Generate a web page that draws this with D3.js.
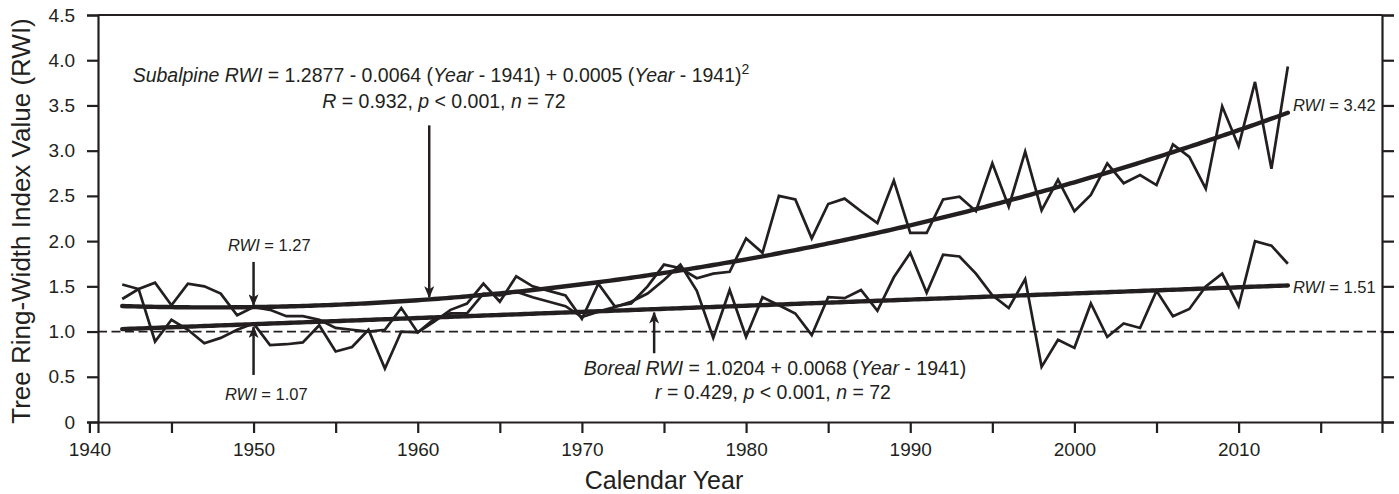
<!DOCTYPE html>
<html>
<head>
<meta charset="utf-8">
<script src="https://cdn.jsdelivr.net/npm/d3@7/dist/d3.min.js"></script>
<style>
  body { margin: 0; background: #fff; }
  text { font-family: "Liberation Sans", Arial, Helvetica, sans-serif; fill: #231f20; }
</style>
</head>
<body>
<svg id="grafico" width="1399" height="494"></svg>
<script>
// anos 1942-2013 (n = 72)
const primeiroAno = 1942;

const subalpino = [
  1.36, 1.47, 1.54, 1.29, 1.53, 1.50, 1.42, 1.18, 1.27, 1.24,
  1.17, 1.17, 1.13, 1.04, 1.02, 1.00, 1.02, 1.26, 0.99, 1.11,
  1.24, 1.31, 1.53, 1.33, 1.61, 1.50, 1.45, 1.40, 1.14, 1.53,
  1.28, 1.31, 1.50, 1.74, 1.70, 1.59, 1.64, 1.66, 2.03, 1.87,
  2.50, 2.46, 2.03, 2.41, 2.47, 2.33, 2.20, 2.67, 2.09, 2.09,
  2.46, 2.49, 2.33, 2.86, 2.38, 2.99, 2.34, 2.68, 2.33, 2.51,
  2.86, 2.64, 2.73, 2.62, 3.07, 2.93, 2.58, 3.49, 3.05, 3.76,
  2.80, 3.93
];

const boreal = [
  1.52, 1.47, 0.89, 1.13, 1.02, 0.87, 0.93, 1.02, 1.09, 0.85,
  0.86, 0.88, 1.07, 0.78, 0.83, 1.02, 0.59, 1.00, 0.99, 1.14,
  1.20, 1.20, 1.42, 1.40, 1.44, 1.38, 1.33, 1.28, 1.16, 1.22,
  1.27, 1.33, 1.42, 1.57, 1.74, 1.45, 0.93, 1.46, 0.94, 1.38,
  1.29, 1.20, 0.96, 1.38, 1.37, 1.46, 1.23, 1.60, 1.87, 1.43,
  1.85, 1.83, 1.64, 1.40, 1.26, 1.58, 0.61, 0.91, 0.82, 1.31,
  0.94, 1.09, 1.04, 1.45, 1.17, 1.25, 1.50, 1.64, 1.28, 2.00,
  1.95, 1.75
];

// coeficientes das regressões (Year - 1941)
const coefSubalpino = [1.2877, -0.0064, 0.0005];
const coefBoreal = [1.0204, 0.0068];
const anoBase = 1941;

const ticksY = [0, 0.5, 1.0, 1.5, 2.0, 2.5, 3.0, 3.5, 4.0, 4.5];
const ticksX = [1940, 1945, 1950, 1955, 1960, 1965, 1970, 1975, 1980, 1985, 1990, 1995, 2000, 2005, 2010, 2015];

const svg = d3.select("#grafico");
const esq = 98, dir = 1382, topo = 15, base = 422;
const cor = "#231f20";

const x = d3.scaleLinear()
  .domain([1940 - (esq - 106.5) / 16.2, 1940 + (dir - 106.5) / 16.2])
  .range([esq, dir]);
const y = d3.scaleLinear().domain([0, 4.5]).range([base, topo]);

const anos = subalpino.map((_, i) => primeiroAno + i);
const polinomio = (c, ano) => c.reduce((s, k, i) => s + k * Math.pow(ano - anoBase, i), 0);

const linha = d3.line().x(d => x(d[0])).y(d => y(d[1]));

// linha de referência RWI = 1
svg.append("line")
  .attr("x1", esq).attr("x2", dir)
  .attr("y1", y(1)).attr("y2", y(1))
  .attr("stroke", cor).attr("stroke-width", 1.8)
  .attr("stroke-dasharray", "9,4.5");

// séries
[subalpino, boreal].forEach(serie => {
  svg.append("path")
    .datum(serie.map((v, i) => [anos[i], v]))
    .attr("d", linha)
    .attr("fill", "none")
    .attr("stroke", cor)
    .attr("stroke-width", 2.7)
    .attr("stroke-linejoin", "miter");
});

// curvas ajustadas
const anosFinos = d3.range(primeiroAno, anos[anos.length - 1] + 0.01, 0.25);
[coefSubalpino, coefBoreal].forEach(c => {
  svg.append("path")
    .datum(anosFinos.map(a => [a, polinomio(c, a)]))
    .attr("d", linha)
    .attr("fill", "none")
    .attr("stroke", cor)
    .attr("stroke-width", 4.4)
    .attr("stroke-linecap", "round");
});

// eixos
const eixoY = svg.append("g")
  .attr("transform", `translate(${esq},0)`)
  .call(d3.axisLeft(y).tickValues(ticksY).tickSize(11).tickPadding(12)
    .tickFormat(d => d === 0 ? "0" : d.toFixed(1)));

const eixoDir = svg.append("g")
  .attr("transform", `translate(${dir},0)`)
  .call(d3.axisRight(y).tickValues(ticksY).tickSize(12).tickFormat(""));

const eixoX = svg.append("g")
  .attr("transform", `translate(0,${base})`)
  .call(d3.axisBottom(x).tickValues(ticksX).tickSize(11).tickPadding(10)
    .tickFormat(d => d % 10 === 0 ? d : ""));

svg.append("line")
  .attr("x1", esq).attr("x2", dir).attr("y1", topo).attr("y2", topo)
  .attr("stroke", cor).attr("stroke-width", 2.2);

[eixoY, eixoDir, eixoX].forEach(g => {
  g.select(".domain").attr("stroke", cor).attr("stroke-width", 2.2);
  g.selectAll(".tick line").attr("stroke", cor).attr("stroke-width", 2.2);
  g.selectAll(".tick text").attr("font-size", 19).attr("fill", cor)
    .style("font-family", '"Liberation Sans", Arial, sans-serif');
});

// títulos
svg.append("text")
  .attr("transform", `translate(30,221) rotate(-90)`)
  .attr("text-anchor", "middle")
  .attr("font-size", 26)
  .text("Tree Ring-Width Index Value (RWI)");

svg.append("text")
  .attr("x", x(1975)).attr("y", 489)
  .attr("text-anchor", "middle")
  .attr("font-size", 25)
  .text("Calendar Year");

// setas
svg.append("defs").append("marker")
  .attr("id", "ponta")
  .attr("viewBox", "0 0 12 10")
  .attr("refX", 11).attr("refY", 5)
  .attr("markerWidth", 13).attr("markerHeight", 10)
  .attr("markerUnits", "userSpaceOnUse")
  .attr("orient", "auto")
  .append("path")
  .attr("d", "M0,0 L12,5 L0,10 L3,5 Z")
  .attr("fill", cor);

const setas = [
  { ano: 1950, de: 1.77, ate: 1.29 },
  { ano: 1950, de: 0.52, ate: 1.05 },
  { ano: 1960.7, de: 3.28, ate: 1.38 },
  { ano: 1974.4, de: 0.76, ate: 1.21 }
];
setas.forEach(s => {
  svg.append("line")
    .attr("x1", x(s.ano)).attr("x2", x(s.ano))
    .attr("y1", y(s.de)).attr("y2", y(s.ate))
    .attr("stroke", cor).attr("stroke-width", 2.5)
    .attr("marker-end", "url(#ponta)");
});

// textos
function rotulo(xp, yp, partes, tamanho, ancora) {
  const t = svg.append("text").attr("x", xp).attr("y", yp)
    .attr("font-size", tamanho).attr("text-anchor", ancora || "start");
  partes.forEach(p => {
    const s = t.append("tspan").text(p[0]);
    if (p[1] === "i") s.attr("font-style", "italic");
    if (p[1] === "sup") s.attr("font-size", tamanho * 0.72).attr("dy", -8);
  });
  return t;
}

rotulo(441, 82, [["Subalpine RWI", "i"], [" = 1.2877 - 0.0064 ("], ["Year", "i"], [" - 1941) + 0.0005 ("], ["Year", "i"], [" - 1941)"], ["2", "sup"]], 19.5, "middle");
rotulo(444, 108, [["R", "i"], [" = 0.932, "], ["p", "i"], [" < 0.001, "], ["n", "i"], [" = 72"]], 19.5, "middle");
rotulo(775, 375, [["Boreal RWI", "i"], [" = 1.0204 + 0.0068 ("], ["Year", "i"], [" - 1941)"]], 19.5, "middle");
rotulo(773, 399, [["r", "i"], [" = 0.429, "], ["p", "i"], [" < 0.001, "], ["n", "i"], [" = 72"]], 19.5, "middle");

rotulo(228, 251, [["RWI", "i"], [" = 1.27"]], 16.5);
rotulo(225, 400, [["RWI", "i"], [" = 1.07"]], 16.5);
rotulo(1293, 111, [["RWI", "i"], [" = 3.42"]], 16.5);
rotulo(1293, 293, [["RWI", "i"], [" = 1.51"]], 16.5);
</script>
</body>
</html>
